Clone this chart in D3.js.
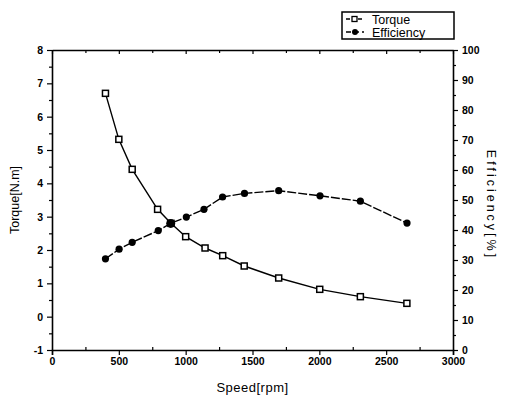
<!DOCTYPE html>
<html><head><meta charset="utf-8">
<script src="https://cdn.jsdelivr.net/npm/d3@7"></script>
<style>body{margin:0;background:#fff}svg{display:block}text{font-family:"Liberation Sans",Arial,sans-serif;fill:#000}</style>
</head><body><svg id="c" width="505" height="401"></svg>
<script>
const torqueSpeed = [400, 500, 600, 790, 890, 1000, 1145, 1277, 1438, 1696, 2003, 2307, 2655];
const torqueVals  = [6.70, 5.32, 4.42, 3.22, 2.80, 2.40, 2.06, 1.83, 1.52, 1.16, 0.82, 0.60, 0.40];
const effSpeed = [400, 502, 600, 795, 888, 1005, 1137, 1276, 1440, 1696, 2005, 2307, 2656];
const effVals  = [30.4, 33.6, 35.9, 39.8, 42.2, 44.3, 46.9, 51.0, 52.2, 53.1, 51.4, 49.6, 42.3];
const xTicks = [0, 500, 1000, 1500, 2000, 2500, 3000];
const yLeftTicks = [-1, 0, 1, 2, 3, 4, 5, 6, 7, 8];
const yRightTicks = [0, 10, 20, 30, 40, 50, 60, 70, 80, 90, 100];
const legendLabels = ["Torque", "Efficiency"];

const svg = d3.select("#c");
const L = 52, R = 453, T = 50, B = 350;
const x = d3.scaleLinear().domain([0, 3000]).range([L, R]);
const yL = d3.scaleLinear().domain([-1, 8]).range([B, T]);
const yR = d3.scaleLinear().domain([0, 100]).range([B, T]);

const tickFont = "bold 10.5px 'Liberation Sans', Arial, sans-serif";
const fmt = d => String(d);

function minor(vals){ const out=[]; for(let i=0;i<vals.length-1;i++) out.push((vals[i]+vals[i+1])/2); return out; }

svg.append("g").attr("transform", `translate(0,${B})`)
  .call(d3.axisBottom(x).tickValues(xTicks).tickFormat(fmt).tickSize(5).tickPadding(3));
svg.append("g").attr("transform", `translate(0,${B})`)
  .call(d3.axisBottom(x).tickValues(minor(xTicks)).tickFormat("").tickSize(-3)).select(".domain").remove();
svg.append("g").attr("transform", `translate(0,${T})`)
  .call(d3.axisTop(x).tickValues(xTicks).tickFormat("").tickSize(-4).tickSizeOuter(0));
svg.append("g").attr("transform", `translate(0,${T})`)
  .call(d3.axisTop(x).tickValues(minor(xTicks)).tickFormat("").tickSize(-3)).select(".domain").remove();
svg.append("g").attr("transform", `translate(${L},0)`)
  .call(d3.axisLeft(yL).tickValues(yLeftTicks).tickFormat(fmt).tickSize(5).tickPadding(4).tickSizeOuter(0));
svg.append("g").attr("transform", `translate(${L},0)`)
  .call(d3.axisLeft(yL).tickValues(minor(yLeftTicks)).tickFormat("").tickSize(3)).select(".domain").remove();
svg.append("g").attr("transform", `translate(${R},0)`)
  .call(d3.axisRight(yR).tickValues(yRightTicks).tickFormat(fmt).tickSize(5).tickPadding(4).tickSizeOuter(0));
svg.append("g").attr("transform", `translate(${R},0)`)
  .call(d3.axisRight(yR).tickValues(minor(yRightTicks)).tickFormat("").tickSize(3)).select(".domain").remove();

svg.selectAll(".domain").attr("stroke", "#000").attr("stroke-width", 1.6);
svg.selectAll(".tick line").attr("stroke", "#000").attr("stroke-width", 1.2);
svg.selectAll(".tick text").style("font", tickFont).attr("fill", "#000");

svg.append("text").attr("x", x(1500)).attr("y", 392).attr("text-anchor", "middle")
  .style("font-size", "13px").style("letter-spacing", "0.5px").text("Speed[rpm]");
svg.append("text").attr("transform", `translate(19,${(T+B)/2}) rotate(-90)`).attr("text-anchor", "middle")
  .style("font-size", "12.5px").text("Torque[N.m]");
svg.append("text").attr("transform", `translate(487,${(T+B)/2 + 5}) rotate(90)`).attr("text-anchor", "middle")
  .style("font-size", "12.5px").style("letter-spacing", "3px").text("Efficiency[%]");

const tData = torqueSpeed.map((s,i)=>({s, v: torqueVals[i]}));
const eData = effSpeed.map((s,i)=>({s, v: effVals[i]}));
svg.append("path").datum(tData)
  .attr("d", d3.line().x(d=>x(d.s)).y(d=>yL(d.v)))
  .attr("fill", "none").attr("stroke", "#000").attr("stroke-width", 1.4);
svg.append("path").datum(eData)
  .attr("d", d3.line().x(d=>x(d.s)).y(d=>yR(d.v)))
  .attr("fill", "none").attr("stroke", "#000").attr("stroke-width", 1.4).attr("stroke-dasharray", "9,2");

svg.selectAll(".sq").data(tData).join("rect")
  .attr("x", d=>x(d.s)-3).attr("y", d=>yL(d.v)-3).attr("width", 6).attr("height", 6)
  .attr("fill", "#fff").attr("stroke", "#000").attr("stroke-width", 1.5);
svg.selectAll(".dot").data(eData).join("circle")
  .attr("cx", d=>x(d.s)).attr("cy", d=>yR(d.v)).attr("r", (d,i)=> i===4 ? 4.5 : 3.6)
  .attr("fill", "#000");

const lg = svg.append("g");
lg.append("rect").attr("x", 342).attr("y", 12).attr("width", 112).attr("height", 27)
  .attr("fill", "#fff").attr("stroke", "#000").attr("stroke-width", 1.5);
legendLabels.forEach((lab, i) => {
  const yy = 19 + i*13;
  lg.append("line").attr("x1", 346).attr("x2", 364).attr("y1", yy).attr("y2", yy)
    .attr("stroke", "#000").attr("stroke-width", 1.3).attr("stroke-dasharray", i ? "5,3" : "4,2");
  if (i === 0) lg.append("rect").attr("x", 352).attr("y", yy-2.5).attr("width", 5).attr("height", 5)
      .attr("fill", "#fff").attr("stroke", "#000").attr("stroke-width", 1.3);
  else lg.append("circle").attr("cx", 355).attr("cy", yy).attr("r", 3).attr("fill", "#000");
  lg.append("text").attr("x", 372).attr("y", yy+4.5).style("font-size", "12.5px").text(lab);
});
</script></body></html>
